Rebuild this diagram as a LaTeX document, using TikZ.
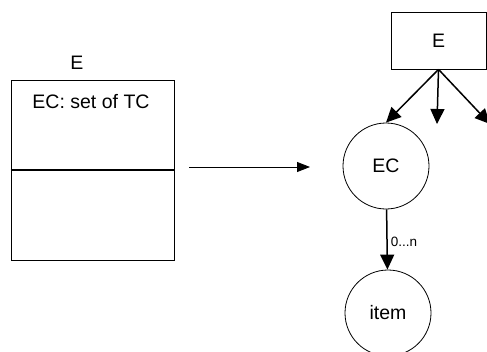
\documentclass[tikz,border=0pt]{standalone}
\usepackage{fontspec}
\setmainfont{Liberation Sans}
\usetikzlibrary{arrows.meta}

\begin{document}
\begin{tikzpicture}[
    x=1pt, y=-1pt,
    every node/.style = {font=\fontsize{19.5}{22}\selectfont, inner sep=0pt},
    ball/.style = {shape=circle, draw, line width=0.8pt, minimum size=86pt},
    fork/.style = {-{Triangle[length=15pt,width=14pt]}, line width=1.5pt},
    thin arrow/.style = {-{Triangle[length=13pt,width=10pt]}, line width=0.8pt}
    ]
    \useasboundingbox (0,0) rectangle (487,351);
    % class box on the left
    \node[draw, line width=0.8pt, minimum width=163pt, minimum height=180pt] (cls) at (92.5,170) {};
    \node (clsname) at (77,63) {E};
    \node (attr) at (91,102) {EC: set of TC};
    \draw[line width=1.3pt] (cls.west) -- (cls.east);
    \coordinate (from) at (189,167);
    \coordinate (to) at (310,167);
    \draw[thin arrow] (from) -- (to);
    % tree on the right
    \node[draw, line width=0.8pt, minimum width=95pt, minimum height=57pt] (E) at (438.5,40.5) {E};
    \node[ball] (EC) at (386,166) {EC};
    \node[ball] (item) at (388,313) {item};
    \coordinate (mid) at (437,124);
    \coordinate (right) at (490,124);
    \draw[fork] (E.south) -- (EC.north);
    \draw[fork] (E.south) -- (mid);
    \draw[fork] (E.south) -- (right);
    \draw[fork] (EC) -- node[right=3pt, yshift=-2pt, font=\fontsize{13.5}{15}\selectfont] {0...n} (item);
\end{tikzpicture}
\end{document}
